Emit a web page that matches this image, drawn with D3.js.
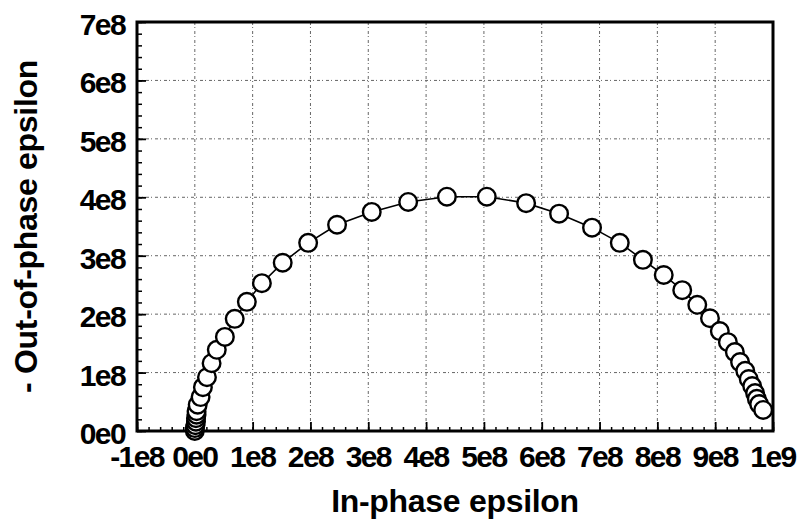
<!DOCTYPE html>
<html>
<head>
<meta charset="utf-8">
<script src="https://cdn.jsdelivr.net/npm/d3@7"></script>
<style>
  html, body { margin: 0; padding: 0; background: #fff; }
  svg { display: block; font-family: "Liberation Sans", Arial, Helvetica, sans-serif; }
  .tick-label { font-size: 30px; font-weight: bold; fill: #000; letter-spacing: -1.6px; }
  .axis-title { font-size: 32px; font-weight: bold; fill: #000; letter-spacing: -0.3px; }
</style>
</head>
<body>
<div id="chart"></div>
<script>
// Cole-Cole style arc
const inPhase = [
  0.00e8, 0.00e8, 0.01e8, 0.02e8, 0.02e8, 0.03e8, 0.03e8, 0.05e8, 0.10e8, 0.14e8,
  0.21e8, 0.29e8, 0.38e8, 0.52e8, 0.69e8, 0.90e8, 1.16e8, 1.52e8, 1.96e8, 2.46e8,
  3.06e8, 3.69e8, 4.36e8, 5.05e8, 5.73e8, 6.30e8, 6.87e8, 7.35e8, 7.75e8, 8.11e8,
  8.43e8, 8.69e8, 8.91e8, 9.08e8, 9.22e8, 9.34e8, 9.43e8, 9.52e8, 9.58e8, 9.64e8,
  9.69e8, 9.72e8, 9.76e8, 9.83e8
];
const outOfPhase = [
  0.00e8, 0.05e8, 0.10e8, 0.16e8, 0.22e8, 0.28e8, 0.34e8, 0.45e8, 0.58e8, 0.75e8,
  0.92e8, 1.16e8, 1.39e8, 1.61e8, 1.92e8, 2.21e8, 2.53e8, 2.88e8, 3.22e8, 3.53e8,
  3.75e8, 3.92e8, 4.01e8, 4.01e8, 3.90e8, 3.72e8, 3.48e8, 3.22e8, 2.93e8, 2.67e8,
  2.41e8, 2.16e8, 1.93e8, 1.71e8, 1.52e8, 1.35e8, 1.18e8, 1.03e8, 0.89e8, 0.77e8,
  0.65e8, 0.55e8, 0.46e8, 0.36e8
];

const xTicks = [-1e8, 0, 1e8, 2e8, 3e8, 4e8, 5e8, 6e8, 7e8, 8e8, 9e8, 1e9];
const xTickLabels = ["-1e8", "0e0", "1e8", "2e8", "3e8", "4e8", "5e8", "6e8", "7e8", "8e8", "9e8", "1e9"];
const yTicks = [0, 1e8, 2e8, 3e8, 4e8, 5e8, 6e8, 7e8];
const yTickLabels = ["0e0", "1e8", "2e8", "3e8", "4e8", "5e8", "6e8", "7e8"];

const xTitle = "In-phase epsilon";
const yTitle = "- Out-of-phase epsilon";

const W = 801, H = 526;
const plot = { left: 137, right: 773, top: 22, bottom: 431 };

const svg = d3.select("#chart").append("svg")
  .attr("width", W)
  .attr("height", H);

const x = d3.scaleLinear().domain([-1e8, 1e9]).range([plot.left, plot.right]);
const y = d3.scaleLinear().domain([0, 7e8]).range([plot.bottom, plot.top]);

// grid - faint dotted lines at the major ticks
const grid = svg.append("g").attr("stroke", "#555").attr("stroke-width", 0.9)
  .attr("stroke-dasharray", "3,2,1,3");
grid.selectAll("line.gx")
  .data(xTicks.slice(1, -1))
  .enter().append("line")
  .attr("x1", d => x(d)).attr("x2", d => x(d))
  .attr("y1", plot.top).attr("y2", plot.bottom);
grid.selectAll("line.gy")
  .data(yTicks.slice(1, -1))
  .enter().append("line")
  .attr("x1", plot.left).attr("x2", plot.right)
  .attr("y1", d => y(d)).attr("y2", d => y(d));

// ticks, pointing inward
const xMinor = d3.range(-1e8, 1e9 + 1, 2e7);
const yMinor = d3.range(0, 7e8 + 1, 2e7);

svg.append("g")
  .attr("transform", `translate(0,${plot.bottom})`)
  .call(d3.axisBottom(x).tickValues(xMinor).tickSize(-4).tickFormat(""))
  .call(g => g.select(".domain").remove())
  .call(g => g.selectAll("line").attr("stroke-width", 1.5));
svg.append("g")
  .attr("transform", `translate(0,${plot.bottom})`)
  .call(d3.axisBottom(x).tickValues(xTicks).tickSize(-9).tickFormat(""))
  .call(g => g.select(".domain").remove())
  .call(g => g.selectAll("line").attr("stroke-width", 1.8));

svg.append("g")
  .attr("transform", `translate(${plot.left},0)`)
  .call(d3.axisLeft(y).tickValues(yMinor).tickSize(-5).tickFormat(""))
  .call(g => g.select(".domain").remove())
  .call(g => g.selectAll("line").attr("stroke-width", 1.5));
svg.append("g")
  .attr("transform", `translate(${plot.left},0)`)
  .call(d3.axisLeft(y).tickValues(yTicks).tickSize(-9).tickFormat(""))
  .call(g => g.select(".domain").remove())
  .call(g => g.selectAll("line").attr("stroke-width", 1.8));

// tick labels
svg.append("g").selectAll("text")
  .data(xTicks)
  .enter().append("text")
  .attr("class", "tick-label")
  .attr("x", d => x(d))
  .attr("y", 467)
  .attr("text-anchor", "middle")
  .text((d, i) => xTickLabels[i]);

svg.append("g").selectAll("text")
  .data(yTicks)
  .enter().append("text")
  .attr("class", "tick-label")
  .attr("x", 125)
  .attr("y", d => y(d) + 13)
  .attr("text-anchor", "end")
  .text((d, i) => yTickLabels[i]);

// frame
svg.append("rect")
  .attr("x", plot.left).attr("y", plot.top)
  .attr("width", plot.right - plot.left)
  .attr("height", plot.bottom - plot.top)
  .attr("fill", "none")
  .attr("stroke", "#000")
  .attr("stroke-width", 3);

// data
const pts = inPhase.map((v, i) => ({ re: v, im: outOfPhase[i] }));

svg.append("path")
  .datum(pts)
  .attr("fill", "none")
  .attr("stroke", "#000")
  .attr("stroke-width", 1.6)
  .attr("d", d3.line().x(d => x(d.re)).y(d => y(d.im)));

svg.append("g").selectAll("circle")
  .data(pts)
  .enter().append("circle")
  .attr("cx", d => x(d.re))
  .attr("cy", d => y(d.im))
  .attr("r", 8.8)
  .attr("fill", "#fff")
  .attr("stroke", "#000")
  .attr("stroke-width", 2.4);

// axis titles
svg.append("text")
  .attr("class", "axis-title")
  .attr("x", (plot.left + plot.right) / 2)
  .attr("y", 512)
  .attr("text-anchor", "middle")
  .text(xTitle);

svg.append("text")
  .attr("class", "axis-title")
  .attr("transform", `translate(37,${(plot.top + plot.bottom) / 2}) rotate(-90)`)
  .attr("text-anchor", "middle")
  .text(yTitle);
</script>
</body>
</html>
